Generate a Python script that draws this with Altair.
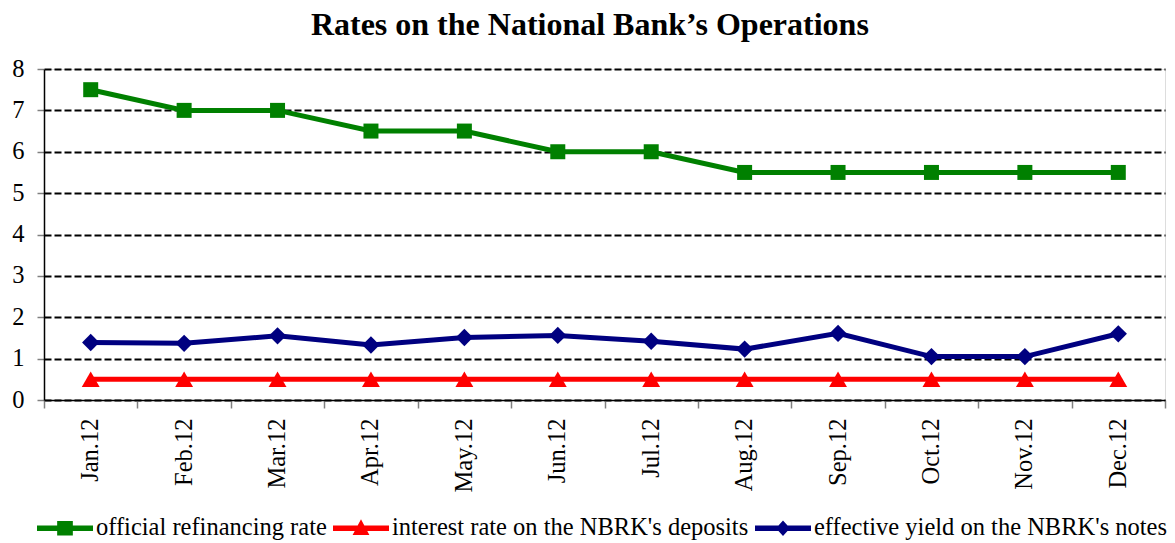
import altair as alt
import pandas as pd

months = ["Jan.12", "Feb.12", "Mar.12", "Apr.12", "May.12", "Jun.12",
          "Jul.12", "Aug.12", "Sep.12", "Oct.12", "Nov.12", "Dec.12"]
series_names = ["official refinancing rate",
                "interest rate on the NBRK's deposits",
                "effective yield on the NBRK's notes"]
refinancing = [7.5, 7.0, 7.0, 6.5, 6.5, 6.0, 6.0, 5.5, 5.5, 5.5, 5.5, 5.5]
deposits = [0.5, 0.5, 0.5, 0.5, 0.5, 0.5, 0.5, 0.5, 0.5, 0.5, 0.5, 0.5]
notes = [1.39, 1.37, 1.55, 1.33, 1.51, 1.56, 1.42, 1.23, 1.61, 1.05, 1.05, 1.60]
y_ticks = [0, 1, 2, 3, 4, 5, 6, 7, 8]

colors = ["#008000", "#FF0000", "#000080"]
marker_shapes = ["square", "triangle-up", "diamond"]
marker_sizes = [225, 320, 300]
legend_shapes = [
    "M-1,-0.1H1V0.1H-1Z M-0.28,-0.26H0.28V0.26H-0.28Z",
    "M-1,-0.1H1V0.1H-1Z M0,-0.32L0.3,0.24H-0.3Z",
    "M-1,-0.1H1V0.1H-1Z M0,-0.28L0.25,0L0,0.28L-0.25,0Z",
]

rows = []
for name, vals in zip(series_names, [refinancing, deposits, notes]):
    for m, v in zip(months, vals):
        rows.append({"month": m, "value": v, "series": name})
df = pd.DataFrame(rows)

FONT = "Liberation Serif"
FS = 24.5

x_enc = alt.X("month:N", sort=months, bandPosition=0.5,
              scale=alt.Scale(type="band", paddingInner=0, paddingOuter=0),
              axis=alt.Axis(title=None, labelAngle=-90, labelFontSize=FS,
                            labelFont=FONT, labelColor="black",
                            tickBand="extent", tickSize=8, tickColor="#808080",
                            tickWidth=1.5,
                            domainColor="black", domainWidth=1.5, grid=False,
                            labelPadding=10, labelAlign="right",
                            labelBaseline="middle"))
y_enc = alt.Y("value:Q",
              scale=alt.Scale(domain=[0, 8], nice=False, zero=True),
              axis=alt.Axis(title=None, values=y_ticks, labelFontSize=FS,
                            labelFont=FONT, labelColor="black",
                            tickSize=7, tickColor="#808080", tickWidth=1.5,
                            domainColor="black", domainWidth=1.5,
                            grid=True, gridColor="black", gridDash=[7, 3],
                            gridWidth=2, labelPadding=13))

base = alt.Chart(df)

line_layers = []
point_layers = []
for name, col, shp, sz in zip(series_names, colors, marker_shapes, marker_sizes):
    sub = base.transform_filter(alt.FieldEqualPredicate(field="series", equal=name))
    line_layers.append(sub.mark_line(color=col, strokeWidth=5).encode(x=x_enc, y=y_enc))
    point_layers.append(sub.mark_point(filled=True, shape=shp, color=col, size=sz,
                                       opacity=1).encode(x=x_enc, y=y_enc))

legend_props = dict(
    title=None, orient="none", direction="horizontal", legendX=-7, legendY=431,
    labelFont=FONT, labelFontSize=FS, labelColor="black", symbolSize=3136,
    symbolOpacity=1, symbolStrokeWidth=0, labelOffset=3, columnPadding=6,
    labelLimit=0, columns=3,
)
legend_layer = base.mark_point(filled=True, opacity=0).encode(
    x=x_enc, y=y_enc,
    color=alt.Color("series:N", scale=alt.Scale(domain=series_names, range=colors),
                    legend=alt.Legend(**legend_props)),
    shape=alt.Shape("series:N", scale=alt.Scale(domain=series_names, range=legend_shapes),
                    legend=alt.Legend(**legend_props)),
)

chart = alt.layer(*line_layers, *point_layers, legend_layer).properties(
    width=1121, height=331,
    autosize=alt.AutoSizeParams(type="none"),
    padding={"left": 44, "top": 69, "right": 10, "bottom": 143},
    title=alt.Title("Rates on the National Bank’s Operations", font=FONT,
                    fontSize=32, fontWeight="bold", color="black",
                    anchor="middle", frame="bounds", offset=14),
).configure_view(stroke=None).configure(background="white")

chart.save("out.html", embed_options={"renderer": "svg", "actions": False})
